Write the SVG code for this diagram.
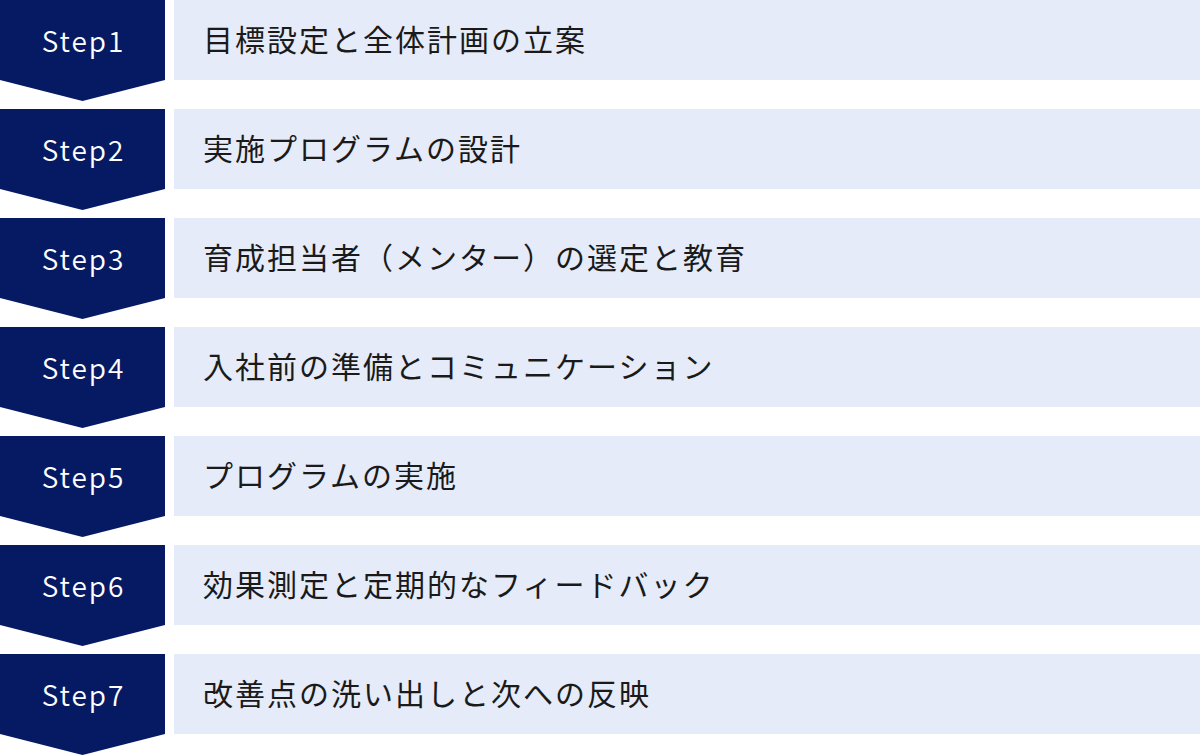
<svg xmlns="http://www.w3.org/2000/svg" width="1200" height="756" viewBox="0 0 1200 756">
<style>
.arrow{fill:#061a63}
.box{fill:#e5ebf8}
.step{font-family:"Noto Sans CJK JP","Noto Sans",sans-serif;font-weight:350;font-size:28px;fill:#ffffff;text-anchor:middle;letter-spacing:2px}
.label{font-family:"Noto Sans CJK JP","Noto Sans",sans-serif;font-weight:400;font-size:30px;fill:#1a1a1a;letter-spacing:2px}
</style>
<defs>
<path id="chev" d="M0 0H165V80L82.5 101L0 80Z"/>
</defs>
<g id="step1" transform="translate(0,0)">
<use href="#chev" class="arrow"/><rect class="box" x="174" y="0" width="1026" height="80"/>
<text class="step" x="83.5" y="52">Step1</text><text class="label" x="203" y="51">目標設定と全体計画の立案</text>
</g>
<g id="step2" transform="translate(0,109)">
<use href="#chev" class="arrow"/><rect class="box" x="174" y="0" width="1026" height="80"/>
<text class="step" x="83.5" y="52">Step2</text><text class="label" x="203" y="51">実施プログラムの設計</text>
</g>
<g id="step3" transform="translate(0,218)">
<use href="#chev" class="arrow"/><rect class="box" x="174" y="0" width="1026" height="80"/>
<text class="step" x="83.5" y="52">Step3</text><text class="label" x="203" y="51">育成担当者（メンター）の選定と教育</text>
</g>
<g id="step4" transform="translate(0,327)">
<use href="#chev" class="arrow"/><rect class="box" x="174" y="0" width="1026" height="80"/>
<text class="step" x="83.5" y="52">Step4</text><text class="label" x="203" y="51">入社前の準備とコミュニケーション</text>
</g>
<g id="step5" transform="translate(0,436)">
<use href="#chev" class="arrow"/><rect class="box" x="174" y="0" width="1026" height="80"/>
<text class="step" x="83.5" y="52">Step5</text><text class="label" x="203" y="51">プログラムの実施</text>
</g>
<g id="step6" transform="translate(0,545)">
<use href="#chev" class="arrow"/><rect class="box" x="174" y="0" width="1026" height="80"/>
<text class="step" x="83.5" y="52">Step6</text><text class="label" x="203" y="51">効果測定と定期的なフィードバック</text>
</g>
<g id="step7" transform="translate(0,654)">
<use href="#chev" class="arrow"/><rect class="box" x="174" y="0" width="1026" height="80"/>
<text class="step" x="83.5" y="52">Step7</text><text class="label" x="203" y="51">改善点の洗い出しと次への反映</text>
</g>
<g id="connectors"/>
</svg>
